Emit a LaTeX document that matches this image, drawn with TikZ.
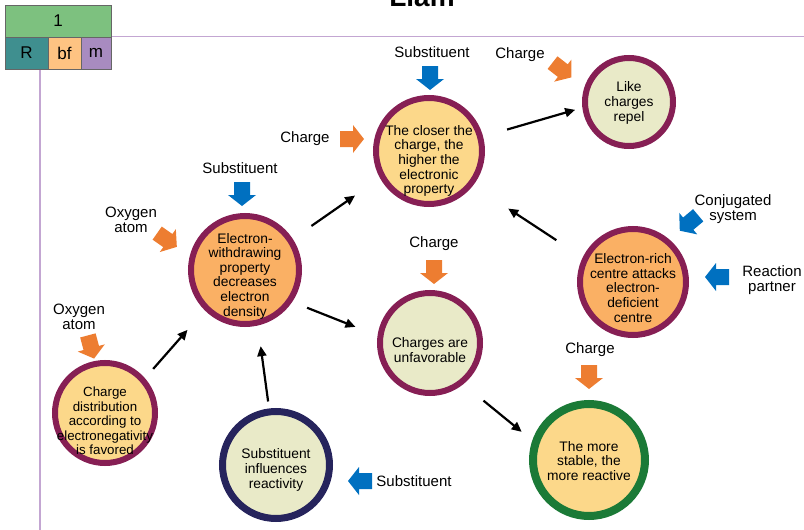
\documentclass[tikz,border=0pt]{standalone}
\usepackage{fontspec}
\setmainfont{Liberation Sans}
\usetikzlibrary{arrows.meta}
\definecolor{ringred}{RGB}{134,31,84}
\definecolor{ringnavy}{RGB}{38,36,92}
\definecolor{ringgreen}{RGB}{27,122,55}
\definecolor{fillgold}{RGB}{252,216,138}
\definecolor{fillorange}{RGB}{250,176,100}
\definecolor{fillbeige}{RGB}{233,234,200}
\definecolor{cueorange}{RGB}{237,125,49}
\definecolor{cueblue}{RGB}{0,112,192}
\definecolor{tabgreen}{RGB}{125,193,127}
\definecolor{tabteal}{RGB}{63,143,143}
\definecolor{taborange}{RGB}{254,195,130}
\definecolor{tabpurple}{RGB}{168,139,192}
\definecolor{rulepurple}{RGB}{195,166,210}
% block arrow: #1 centre, #2 direction (degrees), #3 colour
\newcommand{\cuearrow}[3]{%
  \fill[#3, shift={(#1)}, rotate=#2]
    (-12,8) -- (1,8) -- (1,14) -- (12,0) -- (1,-14) -- (1,-8) -- (-12,-8) -- cycle;}
\begin{document}
\begin{tikzpicture}[x=1pt,y=-1pt,
  circ/.style={circle, draw=ringred, line width=6pt, inner sep=0pt, minimum size=#1},
  ctext/.style={align=center, inner sep=0pt, font=\fontsize{13.8}{14.6}\selectfont},
  cue/.style={align=center, inner sep=0pt, font=\fontsize{15}{15}\selectfont},
  flow/.style={-{Triangle[length=10pt,width=9pt]}, line width=2.2pt},
  cell/.style={draw=black!60, line width=0.6pt, inner sep=0pt, font=\fontsize{17}{17}\selectfont}]
\useasboundingbox (0,0) rectangle (804,530);
\clip (0,0) rectangle (804,530);

% title (runs off the top edge)
\node[anchor=base, font=\bfseries\fontsize{28}{28}\selectfont] (title) at (422,6) {Lläm};

% frame rules
\draw[rulepurple, line width=1pt] (111,36.5) -- (804,36.5);
\draw[rulepurple, line width=1.5pt] (40,69) -- (40,530);

% header table
\node[cell, fill=tabgreen, minimum width=106pt, minimum height=32pt] (hdr) at (58,21) {1};
\node[cell, fill=tabteal, minimum width=43pt, minimum height=32pt] (cR) at (26.5,53) {R};
\node[cell, fill=taborange, minimum width=33pt, minimum height=32pt] (cbf) at (64.5,53) {bf};
\node[cell, fill=tabpurple, minimum width=30pt, minimum height=32pt] (cm) at (96,53) {m};

% circles
\node[circ=106pt, fill=fillgold] (c1) at (429,151) {};
\node[circ=88pt, fill=fillbeige] (c2) at (629,102) {};
\node[circ=108pt, fill=fillorange] (c3) at (245,270) {};
\node[circ=100pt, fill=fillbeige] (c4) at (430,343) {};
\node[circ=106pt, fill=fillorange] (c5) at (633,282) {};
\node[circ=100pt, fill=fillgold] (c6) at (105,413) {};
\node[circ=107pt, draw=ringnavy, line width=7pt, fill=fillbeige] (c7) at (276,465) {};
\node[circ=112pt, draw=ringgreen, line width=8pt, fill=fillgold] (c8) at (589,460) {};

% circle texts
\node[ctext] (t1) at ([yshift=-10pt]c1.center) {The closer the\\charge, the\\higher the\\electronic\\property};
\node[ctext] (t2) at ([yshift=-1pt]c2.center) {Like\\charges\\repel};
\node[ctext] (t3) at ([yshift=-6pt]c3.center) {Electron-\\withdrawing\\property\\decreases\\electron\\density};
\node[ctext] (t4) at ([yshift=-7pt]c4.center) {Charges are\\unfavorable};
\node[ctext] (t5) at ([yshift=-6pt]c5.center) {Electron-rich\\centre attacks\\electron-\\deficient\\centre};
\node[ctext, font=\fontsize{13.3}{14.4}\selectfont] (t6) at ([yshift=-8pt]c6.center) {Charge\\distribution\\according to\\electronegativity\\is favored};
\node[ctext] (t7) at ([yshift=-5pt]c7.center) {Substituent\\influences\\reactivity};
\node[ctext] (t8) at ([yshift=-1pt]c8.center) {The more\\stable, the\\more reactive};

% connections between circles
\draw[flow, shorten <=25pt, shorten >=7.5pt] (c1.15.8) -- (c2.187.8);
\draw[flow, shorten <=22.7pt, shorten >=30.4pt] (c3.33.7) -- (c1.209);
\draw[flow, shorten <=31.5pt, shorten >=42pt] (c5.154) -- (c1.-38.1);
\draw[flow, shorten <=16pt, shorten >=23.7pt] (c3.-34.4) -- (c4.172.2);
\draw[flow, shorten <=12.4pt, shorten >=26pt] (c6.41.1) -- (c3.225);
\draw[flow, shorten <=7pt, shorten >=20.8pt] (c7.97.6) -- (c3.-77.5);
\draw[flow, shorten <=26pt, shorten >=13.6pt] (c4.-51.9) -- (c8.161.6);

% influence cues
\node[cue] (l1) at (432,52) {Substituent};
\cuearrow{430,78}{-90}{cueblue}
\node[cue] (l2) at (520,55) {Charge};
\cuearrow{562,70}{-38}{cueorange}
\node[cue] (l3) at (305,139) {Charge};
\cuearrow{352,139}{0}{cueorange}
\node[cue] (l4) at (240,168) {Substituent};
\cuearrow{242,194}{-90}{cueblue}
\node[cue] (l5) at (131,220) {Oxygen\\atom};
\cuearrow{167,240}{-35}{cueorange}
\node[cue] (l6) at (79,317) {Oxygen\\atom};
\cuearrow{91,347}{-75}{cueorange}
\node[cue] (l7) at (434,244) {Charge};
\cuearrow{434,272}{-90}{cueorange}
\node[cue] (l8) at (733,209) {Conjugated\\system};
\cuearrow{689,223}{-140}{cueblue}
\node[cue] (l9) at (772,280) {Reaction\\partner};
\cuearrow{717,277}{180}{cueblue}
\node[cue] (l10) at (590,350) {Charge};
\cuearrow{589,377}{-90}{cueorange}
\node[cue] (l11) at (414,481) {Substituent};
\cuearrow{360,481}{180}{cueblue}
\end{tikzpicture}
\end{document}
